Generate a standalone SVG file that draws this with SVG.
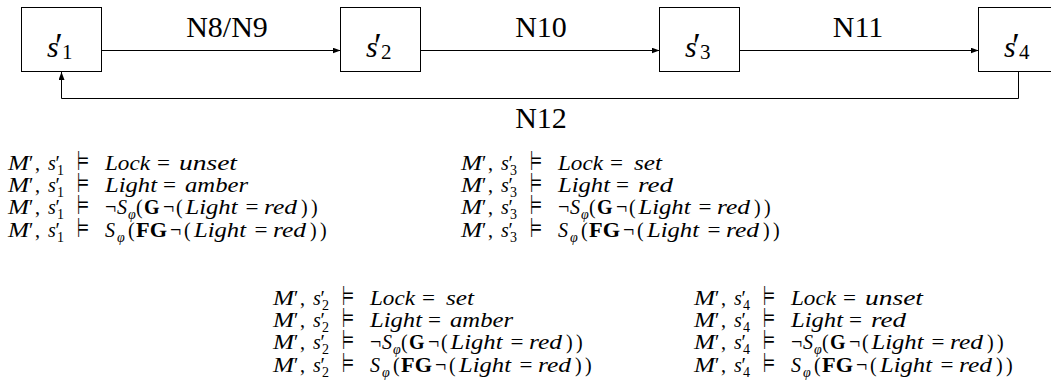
<svg xmlns="http://www.w3.org/2000/svg" width="1051" height="391" viewBox="0 0 1051 391" font-family="'Liberation Serif', 'Times New Roman', serif">
<style>
.box{fill:#fff;stroke:#000;stroke-width:1}
.ln{fill:none;stroke:#000;stroke-width:1}
text{font-family:'Liberation Serif','Times New Roman',serif;fill:#000}
.t{font-size:20px}
.L{font-size:30px}
.i{font-style:italic}
.b{font-weight:bold}
.sb{font-size:14px}
.sy{font-family:'DejaVu Sans',sans-serif;font-size:27px}
.pr{font-size:36px}
</style>
<defs>
<marker id="ah" markerUnits="userSpaceOnUse" markerWidth="9" markerHeight="7" refX="8" refY="3" orient="auto">
<path d="M0,0 L8,3 L0,6 z" fill="#000"/>
</marker>
</defs>
<g id="s1">
<rect class="box" x="21.5" y="7.5" width="80" height="64"/>
<text class="L" y="57"><tspan class="i" x="47">s</tspan><tspan class="pr" x="55" y="58">′</tspan><tspan x="62" y="58.5" font-size="21">1</tspan></text>
</g>
<g id="s2">
<rect class="box" x="340.5" y="7.5" width="80" height="64"/>
<text class="L" y="57"><tspan class="i" x="366">s</tspan><tspan class="pr" x="374" y="58">′</tspan><tspan x="381" y="58.5" font-size="21">2</tspan></text>
</g>
<g id="s3">
<rect class="box" x="659.5" y="7.5" width="80" height="64"/>
<text class="L" y="57"><tspan class="i" x="685">s</tspan><tspan class="pr" x="693" y="58">′</tspan><tspan x="700" y="58.5" font-size="21">3</tspan></text>
</g>
<g id="s4">
<rect class="box" x="978.5" y="7.5" width="80" height="64"/>
<text class="L" y="57"><tspan class="i" x="1004">s</tspan><tspan class="pr" x="1012" y="58">′</tspan><tspan x="1019" y="58.5" font-size="21">4</tspan></text>
</g>
<g id="connectors">
<line class="ln" x1="101.5" y1="50.5" x2="340.5" y2="50.5" marker-end="url(#ah)"/>
<line class="ln" x1="420.5" y1="50.5" x2="659.5" y2="50.5" marker-end="url(#ah)"/>
<line class="ln" x1="739.5" y1="50.5" x2="978.5" y2="50.5" marker-end="url(#ah)"/>
<path class="ln" d="M1018.5,71.5 V98.5 H61.5 V72" marker-end="url(#ah)"/>
<text class="L" x="227" y="37" text-anchor="middle">N8/N9</text>
<text class="L" x="541" y="37" text-anchor="middle">N10</text>
<text class="L" x="858" y="37" text-anchor="middle">N11</text>
<text class="L" x="541" y="128" text-anchor="middle">N12</text>
</g>
<g id="props-s1">
<text class="t" y="170"><tspan class="i" x="8" textLength="21" lengthAdjust="spacingAndGlyphs">M</tspan><tspan x="29">′</tspan><tspan x="35">,</tspan><tspan class="i" x="48">s</tspan><tspan x="55.5">′</tspan><tspan class="sb" x="57" y="175">1</tspan><tspan class="sy" x="77" y="170" textLength="12" lengthAdjust="spacingAndGlyphs">⊨</tspan><tspan class="i" x="105" textLength="45" lengthAdjust="spacingAndGlyphs">Lock</tspan><tspan x="157" textLength="13" lengthAdjust="spacingAndGlyphs">=</tspan><tspan class="i" x="179" textLength="58" lengthAdjust="spacingAndGlyphs">unset</tspan></text>
<text class="t" y="192.2"><tspan class="i" x="8" textLength="21" lengthAdjust="spacingAndGlyphs">M</tspan><tspan x="29">′</tspan><tspan x="35">,</tspan><tspan class="i" x="48">s</tspan><tspan x="55.5">′</tspan><tspan class="sb" x="57" y="197.2">1</tspan><tspan class="sy" x="77" y="192.2" textLength="12" lengthAdjust="spacingAndGlyphs">⊨</tspan><tspan class="i" x="105" textLength="52" lengthAdjust="spacingAndGlyphs">Light</tspan><tspan x="163" textLength="13" lengthAdjust="spacingAndGlyphs">=</tspan><tspan class="i" x="185" textLength="63" lengthAdjust="spacingAndGlyphs">amber</tspan></text>
<text class="t" y="214.4"><tspan class="i" x="8" textLength="21" lengthAdjust="spacingAndGlyphs">M</tspan><tspan x="29">′</tspan><tspan x="35">,</tspan><tspan class="i" x="48">s</tspan><tspan x="55.5">′</tspan><tspan class="sb" x="57" y="219.4">1</tspan><tspan class="sy" x="77" y="214.4" textLength="12" lengthAdjust="spacingAndGlyphs">⊨</tspan><tspan x="105">¬</tspan><tspan class="i" x="117">S</tspan><tspan class="i sb" x="128" y="219.4">φ</tspan><tspan x="136" y="214.4">(</tspan><tspan class="b" x="144">G</tspan><tspan x="163">¬</tspan><tspan x="176">(</tspan><tspan class="i" x="185.5" textLength="52" lengthAdjust="spacingAndGlyphs">Light</tspan><tspan x="245.5" textLength="13" lengthAdjust="spacingAndGlyphs">=</tspan><tspan class="i" x="264" textLength="33" lengthAdjust="spacingAndGlyphs">red</tspan><tspan x="301">)</tspan><tspan x="311">)</tspan></text>
<text class="t" y="236.6"><tspan class="i" x="8" textLength="21" lengthAdjust="spacingAndGlyphs">M</tspan><tspan x="29">′</tspan><tspan x="35">,</tspan><tspan class="i" x="48">s</tspan><tspan x="55.5">′</tspan><tspan class="sb" x="57" y="241.6">1</tspan><tspan class="sy" x="77" y="236.6" textLength="12" lengthAdjust="spacingAndGlyphs">⊨</tspan><tspan class="i" x="105">S</tspan><tspan class="i sb" x="117" y="241.6">φ</tspan><tspan x="128" y="236.6">(</tspan><tspan class="b" x="136" textLength="31" lengthAdjust="spacingAndGlyphs">FG</tspan><tspan x="170">¬</tspan><tspan x="184">(</tspan><tspan class="i" x="194" textLength="52" lengthAdjust="spacingAndGlyphs">Light</tspan><tspan x="254.5" textLength="13" lengthAdjust="spacingAndGlyphs">=</tspan><tspan class="i" x="273" textLength="33" lengthAdjust="spacingAndGlyphs">red</tspan><tspan x="310">)</tspan><tspan x="320">)</tspan></text>
</g>
<g id="props-s3">
<text class="t" y="170"><tspan class="i" x="461" textLength="21" lengthAdjust="spacingAndGlyphs">M</tspan><tspan x="482">′</tspan><tspan x="488">,</tspan><tspan class="i" x="501">s</tspan><tspan x="508.5">′</tspan><tspan class="sb" x="510" y="175">3</tspan><tspan class="sy" x="530" y="170" textLength="12" lengthAdjust="spacingAndGlyphs">⊨</tspan><tspan class="i" x="558" textLength="45" lengthAdjust="spacingAndGlyphs">Lock</tspan><tspan x="610" textLength="13" lengthAdjust="spacingAndGlyphs">=</tspan><tspan class="i" x="634" textLength="28" lengthAdjust="spacingAndGlyphs">set</tspan></text>
<text class="t" y="192.2"><tspan class="i" x="461" textLength="21" lengthAdjust="spacingAndGlyphs">M</tspan><tspan x="482">′</tspan><tspan x="488">,</tspan><tspan class="i" x="501">s</tspan><tspan x="508.5">′</tspan><tspan class="sb" x="510" y="197.2">3</tspan><tspan class="sy" x="530" y="192.2" textLength="12" lengthAdjust="spacingAndGlyphs">⊨</tspan><tspan class="i" x="558" textLength="52" lengthAdjust="spacingAndGlyphs">Light</tspan><tspan x="616" textLength="13" lengthAdjust="spacingAndGlyphs">=</tspan><tspan class="i" x="638" textLength="35" lengthAdjust="spacingAndGlyphs">red</tspan></text>
<text class="t" y="214.4"><tspan class="i" x="461" textLength="21" lengthAdjust="spacingAndGlyphs">M</tspan><tspan x="482">′</tspan><tspan x="488">,</tspan><tspan class="i" x="501">s</tspan><tspan x="508.5">′</tspan><tspan class="sb" x="510" y="219.4">3</tspan><tspan class="sy" x="530" y="214.4" textLength="12" lengthAdjust="spacingAndGlyphs">⊨</tspan><tspan x="558">¬</tspan><tspan class="i" x="570">S</tspan><tspan class="i sb" x="581" y="219.4">φ</tspan><tspan x="589" y="214.4">(</tspan><tspan class="b" x="597">G</tspan><tspan x="616">¬</tspan><tspan x="629">(</tspan><tspan class="i" x="638.5" textLength="52" lengthAdjust="spacingAndGlyphs">Light</tspan><tspan x="698.5" textLength="13" lengthAdjust="spacingAndGlyphs">=</tspan><tspan class="i" x="717" textLength="33" lengthAdjust="spacingAndGlyphs">red</tspan><tspan x="754">)</tspan><tspan x="764">)</tspan></text>
<text class="t" y="236.6"><tspan class="i" x="461" textLength="21" lengthAdjust="spacingAndGlyphs">M</tspan><tspan x="482">′</tspan><tspan x="488">,</tspan><tspan class="i" x="501">s</tspan><tspan x="508.5">′</tspan><tspan class="sb" x="510" y="241.6">3</tspan><tspan class="sy" x="530" y="236.6" textLength="12" lengthAdjust="spacingAndGlyphs">⊨</tspan><tspan class="i" x="558">S</tspan><tspan class="i sb" x="570" y="241.6">φ</tspan><tspan x="581" y="236.6">(</tspan><tspan class="b" x="589" textLength="31" lengthAdjust="spacingAndGlyphs">FG</tspan><tspan x="623">¬</tspan><tspan x="637">(</tspan><tspan class="i" x="647" textLength="52" lengthAdjust="spacingAndGlyphs">Light</tspan><tspan x="707.5" textLength="13" lengthAdjust="spacingAndGlyphs">=</tspan><tspan class="i" x="726" textLength="33" lengthAdjust="spacingAndGlyphs">red</tspan><tspan x="763">)</tspan><tspan x="773">)</tspan></text>
</g>
<g id="props-s2">
<text class="t" y="305"><tspan class="i" x="273" textLength="21" lengthAdjust="spacingAndGlyphs">M</tspan><tspan x="294">′</tspan><tspan x="300">,</tspan><tspan class="i" x="313">s</tspan><tspan x="320.5">′</tspan><tspan class="sb" x="322" y="310">2</tspan><tspan class="sy" x="342" y="305" textLength="12" lengthAdjust="spacingAndGlyphs">⊨</tspan><tspan class="i" x="370" textLength="45" lengthAdjust="spacingAndGlyphs">Lock</tspan><tspan x="422" textLength="13" lengthAdjust="spacingAndGlyphs">=</tspan><tspan class="i" x="446" textLength="28" lengthAdjust="spacingAndGlyphs">set</tspan></text>
<text class="t" y="327.2"><tspan class="i" x="273" textLength="21" lengthAdjust="spacingAndGlyphs">M</tspan><tspan x="294">′</tspan><tspan x="300">,</tspan><tspan class="i" x="313">s</tspan><tspan x="320.5">′</tspan><tspan class="sb" x="322" y="332.2">2</tspan><tspan class="sy" x="342" y="327.2" textLength="12" lengthAdjust="spacingAndGlyphs">⊨</tspan><tspan class="i" x="370" textLength="52" lengthAdjust="spacingAndGlyphs">Light</tspan><tspan x="428" textLength="13" lengthAdjust="spacingAndGlyphs">=</tspan><tspan class="i" x="450" textLength="63" lengthAdjust="spacingAndGlyphs">amber</tspan></text>
<text class="t" y="349.4"><tspan class="i" x="273" textLength="21" lengthAdjust="spacingAndGlyphs">M</tspan><tspan x="294">′</tspan><tspan x="300">,</tspan><tspan class="i" x="313">s</tspan><tspan x="320.5">′</tspan><tspan class="sb" x="322" y="354.4">2</tspan><tspan class="sy" x="342" y="349.4" textLength="12" lengthAdjust="spacingAndGlyphs">⊨</tspan><tspan x="370">¬</tspan><tspan class="i" x="382">S</tspan><tspan class="i sb" x="393" y="354.4">φ</tspan><tspan x="401" y="349.4">(</tspan><tspan class="b" x="409">G</tspan><tspan x="428">¬</tspan><tspan x="441">(</tspan><tspan class="i" x="450.5" textLength="52" lengthAdjust="spacingAndGlyphs">Light</tspan><tspan x="510.5" textLength="13" lengthAdjust="spacingAndGlyphs">=</tspan><tspan class="i" x="529" textLength="33" lengthAdjust="spacingAndGlyphs">red</tspan><tspan x="566">)</tspan><tspan x="576">)</tspan></text>
<text class="t" y="371.6"><tspan class="i" x="273" textLength="21" lengthAdjust="spacingAndGlyphs">M</tspan><tspan x="294">′</tspan><tspan x="300">,</tspan><tspan class="i" x="313">s</tspan><tspan x="320.5">′</tspan><tspan class="sb" x="322" y="376.6">2</tspan><tspan class="sy" x="342" y="371.6" textLength="12" lengthAdjust="spacingAndGlyphs">⊨</tspan><tspan class="i" x="370">S</tspan><tspan class="i sb" x="382" y="376.6">φ</tspan><tspan x="393" y="371.6">(</tspan><tspan class="b" x="401" textLength="31" lengthAdjust="spacingAndGlyphs">FG</tspan><tspan x="435">¬</tspan><tspan x="449">(</tspan><tspan class="i" x="459" textLength="52" lengthAdjust="spacingAndGlyphs">Light</tspan><tspan x="519.5" textLength="13" lengthAdjust="spacingAndGlyphs">=</tspan><tspan class="i" x="538" textLength="33" lengthAdjust="spacingAndGlyphs">red</tspan><tspan x="575">)</tspan><tspan x="585">)</tspan></text>
</g>
<g id="props-s4">
<text class="t" y="305"><tspan class="i" x="694" textLength="21" lengthAdjust="spacingAndGlyphs">M</tspan><tspan x="715">′</tspan><tspan x="721">,</tspan><tspan class="i" x="734">s</tspan><tspan x="741.5">′</tspan><tspan class="sb" x="743" y="310">4</tspan><tspan class="sy" x="763" y="305" textLength="12" lengthAdjust="spacingAndGlyphs">⊨</tspan><tspan class="i" x="791" textLength="45" lengthAdjust="spacingAndGlyphs">Lock</tspan><tspan x="843" textLength="13" lengthAdjust="spacingAndGlyphs">=</tspan><tspan class="i" x="865" textLength="58" lengthAdjust="spacingAndGlyphs">unset</tspan></text>
<text class="t" y="327.2"><tspan class="i" x="694" textLength="21" lengthAdjust="spacingAndGlyphs">M</tspan><tspan x="715">′</tspan><tspan x="721">,</tspan><tspan class="i" x="734">s</tspan><tspan x="741.5">′</tspan><tspan class="sb" x="743" y="332.2">4</tspan><tspan class="sy" x="763" y="327.2" textLength="12" lengthAdjust="spacingAndGlyphs">⊨</tspan><tspan class="i" x="791" textLength="52" lengthAdjust="spacingAndGlyphs">Light</tspan><tspan x="849" textLength="13" lengthAdjust="spacingAndGlyphs">=</tspan><tspan class="i" x="871" textLength="35" lengthAdjust="spacingAndGlyphs">red</tspan></text>
<text class="t" y="349.4"><tspan class="i" x="694" textLength="21" lengthAdjust="spacingAndGlyphs">M</tspan><tspan x="715">′</tspan><tspan x="721">,</tspan><tspan class="i" x="734">s</tspan><tspan x="741.5">′</tspan><tspan class="sb" x="743" y="354.4">4</tspan><tspan class="sy" x="763" y="349.4" textLength="12" lengthAdjust="spacingAndGlyphs">⊨</tspan><tspan x="791">¬</tspan><tspan class="i" x="803">S</tspan><tspan class="i sb" x="814" y="354.4">φ</tspan><tspan x="822" y="349.4">(</tspan><tspan class="b" x="830">G</tspan><tspan x="849">¬</tspan><tspan x="862">(</tspan><tspan class="i" x="871.5" textLength="52" lengthAdjust="spacingAndGlyphs">Light</tspan><tspan x="931.5" textLength="13" lengthAdjust="spacingAndGlyphs">=</tspan><tspan class="i" x="950" textLength="33" lengthAdjust="spacingAndGlyphs">red</tspan><tspan x="987">)</tspan><tspan x="997">)</tspan></text>
<text class="t" y="371.6"><tspan class="i" x="694" textLength="21" lengthAdjust="spacingAndGlyphs">M</tspan><tspan x="715">′</tspan><tspan x="721">,</tspan><tspan class="i" x="734">s</tspan><tspan x="741.5">′</tspan><tspan class="sb" x="743" y="376.6">4</tspan><tspan class="sy" x="763" y="371.6" textLength="12" lengthAdjust="spacingAndGlyphs">⊨</tspan><tspan class="i" x="791">S</tspan><tspan class="i sb" x="803" y="376.6">φ</tspan><tspan x="814" y="371.6">(</tspan><tspan class="b" x="822" textLength="31" lengthAdjust="spacingAndGlyphs">FG</tspan><tspan x="856">¬</tspan><tspan x="870">(</tspan><tspan class="i" x="880" textLength="52" lengthAdjust="spacingAndGlyphs">Light</tspan><tspan x="940.5" textLength="13" lengthAdjust="spacingAndGlyphs">=</tspan><tspan class="i" x="959" textLength="33" lengthAdjust="spacingAndGlyphs">red</tspan><tspan x="996">)</tspan><tspan x="1006">)</tspan></text>
</g>
</svg>
